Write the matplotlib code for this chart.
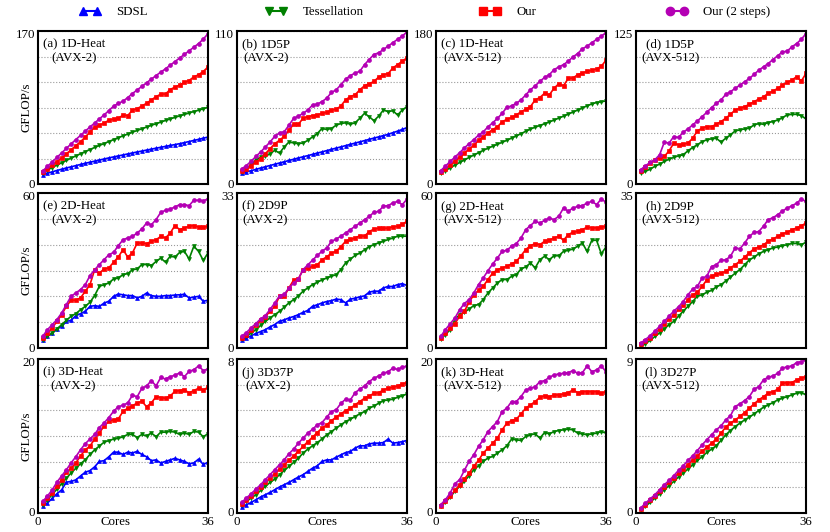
import numpy as np
import matplotlib.pyplot as plt
import matplotlib.transforms as mtransforms
from matplotlib.lines import Line2D

plt.rcParams['font.family'] = ['Liberation Serif', 'DejaVu Serif']
plt.rcParams['font.size'] = 9.3

# ------------------------------------------
# data (GFLOP/s per core count)
# ------------------------------------------
cores = np.arange(1, 37)

# (a) 1D-Heat AVX-2
a_sdsl = [10.5, 12.0, 13.5, 15.0, 16.4, 17.8, 19.1, 20.4, 21.7, 23.0, 24.2, 25.4,
          26.6, 27.8, 29.0, 30.1, 31.2, 32.3, 33.4, 34.5, 35.6, 36.6, 37.7, 38.7,
          39.8, 40.8, 41.8, 42.8, 43.8, 44.8, 46.0, 47.2, 48.4, 49.6, 50.9, 52.2]
a_tess = [12.7, 15.5, 18.3, 21.0, 23.6, 26.2, 28.7, 31.2, 33.6, 36.0, 38.3, 40.6,
          42.8, 45.0, 47.2, 49.3, 51.4, 53.5, 55.5, 57.5, 59.5, 61.4, 63.3, 65.2,
          67.0, 68.8, 70.6, 72.3, 74.0, 75.7, 77.3, 78.9, 80.5, 82.0, 83.6, 85.2]
a_our = [13.0, 17.0, 21.0, 25.0, 29.0, 33.5, 38.0, 42.5, 47.0, 52.0, 58.0, 63.0,
         65.5, 67.5, 71.0, 72.0, 72.9, 76.6, 76.0, 82.0, 83.7, 86.7, 89.7, 93.4,
         97.0, 99.8, 100.0, 105.0, 107.6, 110.0, 113.0, 115.0, 119.0, 121.4, 125.0, 130.0]
a_our2 = [14.5, 19.5, 24.5, 29.5, 34.5, 39.5, 44.5, 49.3, 54.0, 58.7, 63.3, 67.8,
          72.3, 76.8, 81.5, 86.5, 89.5, 92.0, 96.0, 100.5, 104.5, 108.5, 112.5, 116.5,
          120.5, 124.3, 128.0, 132.0, 136.0, 140.0, 144.0, 148.0, 152.0, 156.0, 161.0, 167.0]

# (b) 1D5P AVX-2
b_sdsl = [7.7, 8.7, 9.6, 10.5, 11.5, 12.4, 13.3, 14.2, 15.1, 16.0, 16.9, 17.8,
          18.7, 19.6, 20.4, 21.3, 22.2, 23.1, 24.0, 24.9, 25.8, 26.7, 27.6, 28.5,
          29.4, 30.3, 31.2, 32.1, 33.0, 33.9, 34.8, 35.7, 36.9, 38.0, 39.2, 40.6]
b_tess = [8.5, 10.9, 14.0, 17.4, 19.3, 19.8, 21.8, 24.2, 22.2, 26.6, 30.2, 29.5,
          29.0, 29.5, 31.4, 33.9, 36.3, 39.9, 39.2, 39.9, 42.3, 43.5, 44.0, 43.0,
          44.0, 47.2, 50.8, 48.4, 45.5, 48.8, 53.2, 52.0, 52.7, 49.6, 53.2, 55.6]
b_our = [9.2, 10.9, 13.3, 15.7, 18.1, 21.8, 25.4, 29.0, 31.4, 34.3, 38.7, 43.0,
         43.0, 47.2, 48.4, 49.1, 49.6, 50.8, 51.5, 53.2, 53.7, 56.1, 60.5, 62.9,
         64.1, 67.7, 70.6, 72.1, 73.7, 76.9, 78.6, 79.3, 83.4, 85.8, 88.3, 90.7]
b_our2 = [10.9, 13.3, 16.4, 19.8, 23.0, 26.6, 30.2, 34.3, 36.8, 37.5, 42.3, 47.2,
          48.8, 50.8, 53.2, 56.8, 57.5, 59.2, 61.7, 65.8, 67.7, 71.3, 75.4, 77.9,
          79.8, 81.0, 85.8, 89.5, 93.1, 94.3, 96.7, 99.1, 101.6, 104.0, 106.4, 109.3]

# (c) 1D-Heat AVX-512
c_tess = [12.7, 15.8, 19.0, 22.2, 25.3, 28.3, 31.2, 34.0, 36.8, 39.6, 42.0, 44.4,
          46.7, 49.0, 51.4, 54.0, 56.6, 59.2, 62.0, 64.6, 66.8, 68.8, 71.0, 73.0,
          75.2, 77.5, 79.8, 82.2, 84.6, 87.0, 89.5, 92.0, 94.2, 95.8, 96.8, 97.7]
c_our = [13.8, 17.8, 22.5, 26.9, 31.6, 36.4, 41.1, 45.5, 51.4, 55.4, 60.1, 64.1,
         67.2, 73.2, 76.0, 78.3, 81.1, 85.0, 87.8, 91.0, 98.9, 101.7, 106.8, 104.8,
         112.7, 117.9, 115.5, 124.2, 124.6, 128.6, 130.5, 132.5, 133.7, 135.3, 138.5, 145.6]
c_our2 = [15.8, 21.0, 26.5, 31.6, 36.8, 42.3, 47.5, 52.2, 57.4, 61.3, 67.2, 72.0,
          77.1, 83.1, 90.2, 91.8, 94.9, 98.9, 104.8, 110.8, 115.5, 120.7, 125.4, 128.6,
          134.5, 137.7, 140.4, 144.4, 149.5, 153.5, 159.0, 162.2, 166.2, 170.1, 174.0, 178.0]

# (d) 1D5P AVX-512
d_tess = [8.9, 10.3, 12.2, 14.4, 16.3, 18.4, 20.3, 21.7, 23.0, 23.9, 27.1, 29.8,
          32.0, 34.7, 36.1, 36.9, 37.4, 34.2, 37.4, 40.1, 43.4, 44.2, 45.0, 45.6,
          48.3, 49.3, 48.8, 50.2, 51.0, 52.3, 54.2, 56.4, 56.9, 56.9, 55.9, 53.1]
d_our = [10.3, 13.6, 17.1, 19.8, 21.1, 22.5, 27.1, 33.4, 32.0, 32.5, 33.4, 37.4,
         43.4, 45.6, 46.9, 46.9, 48.8, 51.0, 53.7, 56.9, 60.5, 61.8, 63.2, 65.1,
         67.2, 69.4, 71.3, 74.0, 75.9, 78.1, 80.8, 83.0, 84.9, 87.6, 84.1, 90.3]
d_our2 = [11.7, 14.9, 17.6, 19.8, 23.9, 34.2, 33.4, 38.8, 38.0, 42.3, 45.0, 48.3,
          51.5, 55.0, 58.6, 62.4, 65.9, 68.6, 73.2, 75.4, 78.1, 80.8, 83.5, 86.2,
          89.5, 93.0, 95.7, 98.4, 101.7, 104.7, 107.9, 108.5, 112.0, 114.7, 118.2, 122.8]

# (e) 2D-Heat AVX-2
e_sdsl = [3.0, 4.5, 5.8, 7.4, 8.4, 10.3, 10.7, 12.5, 13.3, 14.2, 16.1, 16.4,
          16.1, 17.4, 18.1, 20.0, 20.9, 20.6, 20.3, 20.3, 19.4, 20.0, 21.3, 20.3,
          20.0, 20.0, 20.3, 20.3, 20.5, 20.6, 20.8, 19.4, 19.7, 20.0, 18.1, 18.5]
e_tess = [3.2, 4.5, 5.8, 7.4, 9.0, 10.7, 12.3, 13.3, 14.8, 16.1, 17.7, 20.3,
          23.9, 24.5, 25.2, 26.7, 27.1, 28.4, 28.8, 30.3, 30.6, 32.3, 32.3, 31.9,
          33.5, 34.8, 33.2, 35.5, 35.2, 37.0, 37.4, 34.5, 39.4, 37.4, 33.9, 36.8]
e_our = [3.9, 5.8, 7.7, 10.3, 12.9, 16.1, 18.5, 18.5, 19.4, 21.9, 24.5, 30.3,
         29.0, 30.6, 31.0, 33.2, 35.2, 38.1, 35.2, 36.8, 40.6, 40.6, 40.4, 41.3,
         41.9, 43.2, 42.6, 44.5, 47.4, 45.8, 46.5, 47.1, 47.4, 46.8, 46.8, 47.1]
e_our2 = [4.5, 7.1, 9.0, 11.0, 13.5, 16.8, 20.0, 21.3, 22.6, 24.5, 28.0, 30.3,
          32.3, 34.2, 36.1, 37.0, 39.6, 41.9, 42.6, 43.2, 44.5, 46.1, 48.4, 47.7,
          49.7, 52.5, 53.3, 53.8, 54.6, 55.5, 55.5, 55.1, 57.2, 57.2, 57.0, 57.7]

# (f) 2D9P AVX-2
f_sdsl = [1.8, 2.1, 2.6, 3.1, 3.5, 3.9, 4.5, 5.0, 5.7, 6.0, 6.4, 6.7,
          7.1, 7.6, 8.0, 8.9, 9.2, 9.6, 9.9, 10.1, 10.4, 10.3, 9.6, 10.4,
          10.6, 10.9, 11.1, 11.9, 12.1, 12.1, 12.8, 13.1, 13.1, 13.5, 13.7, 13.3]
f_tess = [1.9, 2.5, 3.2, 3.9, 4.8, 5.7, 6.4, 7.1, 7.8, 8.7, 9.6, 10.3,
          11.1, 12.1, 12.8, 13.5, 14.0, 14.5, 14.9, 15.3, 15.6, 16.7, 18.1, 18.9,
          19.7, 20.2, 20.9, 21.6, 22.0, 22.4, 22.7, 23.1, 23.4, 23.8, 23.8, 23.8]
f_our = [2.1, 2.8, 3.8, 4.8, 5.9, 6.7, 7.8, 8.9, 11.0, 11.0, 12.8, 14.5,
         14.7, 16.7, 17.0, 17.4, 17.7, 18.8, 19.4, 20.2, 20.6, 21.6, 22.7, 23.1,
         23.4, 23.9, 23.8, 24.8, 25.3, 25.5, 25.5, 25.5, 25.8, 25.9, 26.3, 27.0]
f_our2 = [2.5, 3.3, 4.3, 5.2, 6.2, 6.9, 8.2, 9.6, 11.1, 11.4, 12.8, 13.8,
          14.7, 16.7, 17.7, 18.7, 19.7, 20.6, 21.3, 22.7, 23.2, 23.8, 24.5, 25.2,
          25.9, 26.6, 27.3, 28.0, 28.9, 29.1, 30.2, 30.3, 30.9, 31.2, 30.5, 31.7]

# (g) 2D-Heat AVX-512
g_tess = [3.5, 5.2, 7.1, 11.0, 12.9, 13.8, 15.1, 16.4, 16.8, 18.7, 21.3, 23.2,
          25.2, 26.5, 26.5, 27.7, 28.4, 30.6, 31.4, 32.9, 31.0, 34.2, 35.5, 34.2,
          35.7, 35.7, 37.4, 37.8, 38.3, 39.4, 40.6, 37.4, 41.7, 41.7, 36.5, 39.1]
g_our = [3.9, 5.8, 7.7, 9.4, 12.3, 14.2, 17.7, 20.6, 22.3, 23.9, 26.5, 29.0,
         30.3, 31.0, 31.6, 32.6, 33.5, 35.7, 38.1, 39.6, 40.4, 40.0, 41.3, 41.7,
         42.6, 43.2, 41.7, 43.9, 44.8, 45.2, 45.8, 46.8, 46.5, 46.5, 46.8, 47.1]
g_our2 = [4.5, 7.1, 9.4, 11.6, 14.8, 17.2, 18.7, 21.3, 24.5, 27.1, 29.9, 32.5,
          34.8, 37.4, 37.8, 39.4, 40.4, 42.6, 45.8, 47.4, 49.0, 48.4, 49.4, 50.3,
          49.7, 51.0, 54.2, 52.9, 54.2, 54.8, 55.1, 56.1, 56.8, 55.5, 57.7, 56.4]

# (h) 2D9P AVX-512
h_tess = [0.4, 1.0, 1.7, 2.6, 3.4, 4.3, 5.3, 6.0, 7.2, 8.3, 9.4, 10.5,
          11.7, 12.0, 12.6, 13.0, 13.8, 14.3, 15.1, 16.0, 16.9, 17.7, 18.8, 19.9,
          20.5, 21.3, 21.8, 22.2, 22.6, 22.8, 23.1, 23.3, 23.6, 23.6, 23.3, 23.9]
h_our = [0.8, 1.5, 2.3, 3.4, 4.3, 5.5, 6.5, 7.5, 8.7, 9.6, 10.9, 12.0,
         12.6, 13.9, 15.4, 16.3, 16.6, 16.9, 17.3, 18.1, 18.8, 19.6, 20.5, 21.5,
         22.4, 22.8, 23.3, 24.1, 24.6, 25.2, 25.8, 26.1, 26.7, 27.1, 27.6, 28.2]
h_our2 = [1.1, 1.9, 2.8, 3.8, 4.9, 6.0, 7.2, 8.3, 9.3, 10.5, 12.0, 13.3,
          13.9, 15.8, 16.2, 18.4, 18.8, 19.8, 19.9, 20.7, 22.6, 22.4, 23.7, 25.2,
          26.1, 26.3, 27.5, 29.0, 29.4, 30.1, 30.9, 31.6, 32.1, 32.7, 33.6, 33.1]

# (i) 3D-Heat AVX-2
i_sdsl = [0.9, 1.3, 1.9, 2.5, 3.0, 4.0, 4.1, 4.3, 4.8, 5.3, 5.5, 6.0,
          6.7, 6.8, 7.3, 7.9, 7.9, 7.6, 7.9, 7.8, 8.0, 7.6, 7.3, 6.8,
          6.9, 6.5, 6.7, 6.9, 7.1, 6.9, 6.7, 6.4, 6.5, 7.0, 6.3, 6.6]
i_tess = [1.1, 1.7, 2.4, 3.1, 3.8, 4.5, 5.2, 5.8, 6.4, 6.9, 7.6, 8.2,
          8.7, 9.2, 9.4, 9.6, 9.7, 9.9, 10.2, 10.2, 9.8, 10.2, 10.0, 10.4,
          9.9, 10.5, 10.5, 10.6, 10.5, 10.2, 10.4, 10.2, 10.6, 10.5, 9.9, 10.3]
i_our = [1.3, 1.9, 2.6, 3.5, 4.3, 5.3, 5.8, 6.5, 7.4, 8.2, 8.7, 9.6,
         10.4, 11.3, 11.9, 12.1, 12.2, 13.2, 13.6, 13.9, 14.3, 14.5, 13.8, 14.3,
         15.1, 15.0, 14.9, 15.2, 15.8, 15.9, 16.0, 15.6, 15.9, 16.2, 16.0, 16.3]
i_our2 = [1.5, 2.2, 3.0, 4.0, 4.8, 5.6, 6.5, 7.3, 8.2, 9.0, 9.6, 10.2,
          11.1, 11.7, 12.4, 13.2, 13.8, 14.0, 14.3, 15.3, 15.1, 16.2, 16.5, 17.2,
          16.5, 17.6, 17.4, 17.7, 17.9, 18.2, 17.7, 18.4, 18.6, 19.1, 18.5, 18.7]

# (j) 3D37P AVX-2
j_sdsl = [0.31, 0.43, 0.55, 0.69, 0.83, 0.95, 1.07, 1.21, 1.35, 1.47, 1.59, 1.73,
          1.87, 1.99, 2.16, 2.33, 2.45, 2.68, 2.76, 2.76, 2.90, 3.02, 3.14, 3.20,
          3.37, 3.49, 3.49, 3.59, 3.63, 3.63, 3.66, 3.84, 3.63, 3.66, 3.71, 3.77]
j_tess = [0.43, 0.60, 0.78, 0.95, 1.17, 1.38, 1.59, 1.76, 1.99, 2.21, 2.42, 2.63,
          2.85, 3.11, 3.32, 3.49, 3.66, 3.84, 4.06, 4.23, 4.41, 4.58, 4.75, 4.87,
          5.01, 5.15, 5.27, 5.44, 5.56, 5.70, 5.84, 5.87, 5.91, 6.01, 6.08, 6.19]
j_our = [0.48, 0.69, 0.90, 1.12, 1.35, 1.59, 1.81, 2.04, 2.28, 2.51, 2.73, 2.97,
         3.20, 3.46, 3.71, 3.94, 4.18, 4.41, 4.58, 4.80, 4.98, 5.15, 5.32, 5.44,
         5.62, 5.79, 5.96, 6.08, 6.22, 6.25, 6.39, 6.48, 6.53, 6.60, 6.70, 6.77]
j_our2 = [0.55, 0.78, 1.00, 1.24, 1.47, 1.73, 1.99, 2.25, 2.51, 2.76, 3.08, 3.32,
          3.63, 3.89, 4.15, 4.35, 4.58, 4.70, 4.98, 5.27, 5.36, 5.70, 5.91, 5.87,
          6.25, 6.43, 6.60, 6.83, 7.00, 7.12, 7.26, 7.34, 7.52, 7.46, 7.57, 7.64]

# (k) 3D-Heat AVX-512
k_tess = [0.86, 1.38, 2.07, 2.81, 3.46, 4.10, 4.84, 5.62, 6.13, 6.70, 7.13, 7.34,
          7.78, 8.21, 8.73, 9.59, 9.50, 9.42, 9.94, 10.15, 10.28, 9.72, 10.45, 10.28,
          10.58, 10.71, 10.80, 10.89, 10.80, 10.37, 10.28, 10.15, 10.28, 10.37, 10.58, 10.37]
k_our = [0.86, 1.51, 2.16, 2.94, 3.67, 4.41, 5.18, 6.05, 6.83, 7.78, 8.42, 9.07,
         9.72, 10.80, 11.66, 12.01, 12.18, 12.87, 13.61, 14.04, 14.47, 15.03, 15.21, 15.12,
         15.33, 15.33, 15.46, 15.64, 15.98, 15.64, 15.77, 15.77, 15.77, 15.77, 15.55, 15.77]
k_our2 = [1.08, 1.73, 2.59, 3.80, 4.32, 5.53, 6.70, 7.56, 8.64, 9.50, 10.58, 11.23,
          11.88, 13.17, 13.61, 14.47, 14.47, 15.12, 15.98, 16.20, 16.41, 17.06, 17.19, 17.62,
          17.93, 18.06, 18.14, 18.23, 18.49, 18.14, 18.23, 19.09, 18.36, 18.57, 19.09, 18.36]

# (l) 3D27P AVX-512
l_tess = [0.16, 0.39, 0.62, 0.87, 1.13, 1.36, 1.59, 1.85, 2.10, 2.33, 2.57, 2.82,
          3.07, 3.30, 3.54, 3.73, 3.93, 4.24, 4.57, 4.82, 5.05, 5.25, 5.44, 5.60,
          5.79, 5.99, 6.18, 6.32, 6.45, 6.61, 6.71, 6.80, 6.90, 7.00, 7.04, 6.90]
l_our = [0.23, 0.49, 0.74, 0.97, 1.26, 1.52, 1.79, 2.04, 2.33, 2.57, 2.82, 3.11,
         3.34, 3.60, 3.85, 4.08, 4.32, 4.67, 5.02, 5.25, 5.44, 5.64, 5.87, 6.12,
         6.38, 6.61, 6.80, 7.00, 7.09, 7.23, 7.58, 7.62, 7.62, 7.78, 7.87, 7.97]
l_our2 = [0.29, 0.58, 0.82, 1.07, 1.36, 1.65, 1.90, 2.18, 2.49, 2.76, 3.07, 3.34,
          3.65, 3.98, 4.28, 4.57, 4.86, 5.09, 5.44, 5.68, 6.22, 6.38, 6.57, 6.80,
          7.23, 7.39, 7.78, 7.93, 8.01, 8.16, 8.46, 8.55, 8.59, 8.79, 8.85, 8.94]

panel_titles = ['(a) 1D-Heat\n(AVX-2)', '(b) 1D5P\n(AVX-2)',
                '(c) 1D-Heat\n(AVX-512)', '(d) 1D5P\n(AVX-512)',
                '(e) 2D-Heat\n(AVX-2)', '(f) 2D9P\n(AVX-2)',
                '(g) 2D-Heat\n(AVX-512)', '(h) 2D9P\n(AVX-512)',
                '(i) 3D-Heat\n(AVX-2)', '(j) 3D37P\n(AVX-2)',
                '(k) 3D-Heat\n(AVX-512)', '(l) 3D27P\n(AVX-512)']
panel_ymax = [170, 110, 180, 125, 60, 33, 60, 35, 20, 8, 20, 9]

panel_data = [
    [a_sdsl, a_tess, a_our, a_our2],
    [b_sdsl, b_tess, b_our, b_our2],
    [None, c_tess, c_our, c_our2],
    [None, d_tess, d_our, d_our2],
    [e_sdsl, e_tess, e_our, e_our2],
    [f_sdsl, f_tess, f_our, f_our2],
    [None, g_tess, g_our, g_our2],
    [None, h_tess, h_our, h_our2],
    [i_sdsl, i_tess, i_our, i_our2],
    [j_sdsl, j_tess, j_our, j_our2],
    [None, k_tess, k_our, k_our2],
    [None, l_tess, l_our, l_our2],
]

series_names = ['SDSL', 'Tessellation', 'Our', 'Our (2 steps)']
series_colors = ['#0000ff', '#008000', '#ff0000', '#b400b4']
series_markers = ['^', 'v', 's', 'o']

# ------------------------------------------
# layout (pixels of the 830x532 figure)
# ------------------------------------------
W, H = 830, 532
col_x = [38, 237, 436, 636]
col_w = 170
row_y = [(31, 184), (193, 348), (359, 513)]
cores_label_x = [16.5, 18, 19, 18]
legend_x = [79, 265, 479, 666]

fig = plt.figure(figsize=(W / 100, H / 100), dpi=100)

# small vertical nudges so the 0 / max labels of stacked panels do not collide
shift_down = mtransforms.ScaledTranslation(0, -3 / 100, fig.dpi_scale_trans)
shift_up = mtransforms.ScaledTranslation(0, 1 / 100, fig.dpi_scale_trans)

for i in range(12):
    r, c = divmod(i, 4)
    top, bot = row_y[r]
    ax = fig.add_axes([col_x[c] / W, 1 - bot / H, col_w / W, (bot - top) / H])

    for s, vals in enumerate(panel_data[i]):
        if vals is None:
            continue
        ax.plot(cores, vals, color=series_colors[s], marker=series_markers[s],
                markersize=2.8, linewidth=1.2, markeredgewidth=0.5,
                markeredgecolor=series_colors[s])

    ymax = panel_ymax[i]
    ax.set_xlim(0, 36)
    ax.set_ylim(0, ymax)
    ax.set_yticks(np.linspace(0, ymax, 7))
    ax.set_yticklabels(['0', '', '', '', '', '', str(ymax)])
    ax.grid(axis='y', linestyle=':', color='#9a9a9a', linewidth=0.8)
    ax.set_axisbelow(True)
    ax.tick_params(length=0, pad=2)

    ylabels = ax.get_yticklabels()
    ylabels[0].set_transform(ylabels[0].get_transform() + shift_up)
    ylabels[-1].set_transform(ylabels[-1].get_transform() + shift_down)

    if r == 2:
        ax.set_xticks([0, cores_label_x[c], 36])
        ax.set_xticklabels(['0', 'Cores', '36'])
        ax.tick_params(axis='x', pad=2)
    else:
        ax.set_xticks([])

    if c == 0:
        ax.set_ylabel('GFLOP/s')
        ax.yaxis.set_label_coords(-0.035, 0.5)

    for sp in ax.spines.values():
        sp.set_linewidth(1.5)
        sp.set_color('black')

    ax.text(0.03, 0.95, panel_titles[i], transform=ax.transAxes,
            ha='left', va='top', multialignment='center', linespacing=1.15)

# legend across the top
for s in range(4):
    h = Line2D([], [], color=series_colors[s], marker=series_markers[s],
               markersize=6, linewidth=1.5)
    fig.legend(handles=[h], labels=[series_names[s]], loc='center left',
               bbox_to_anchor=(legend_x[s] / W, 1 - 12 / H), frameon=False,
               borderpad=0, borderaxespad=0, handlelength=1.7,
               handletextpad=1.2, numpoints=2)

fig.savefig('out.png', dpi=100)
